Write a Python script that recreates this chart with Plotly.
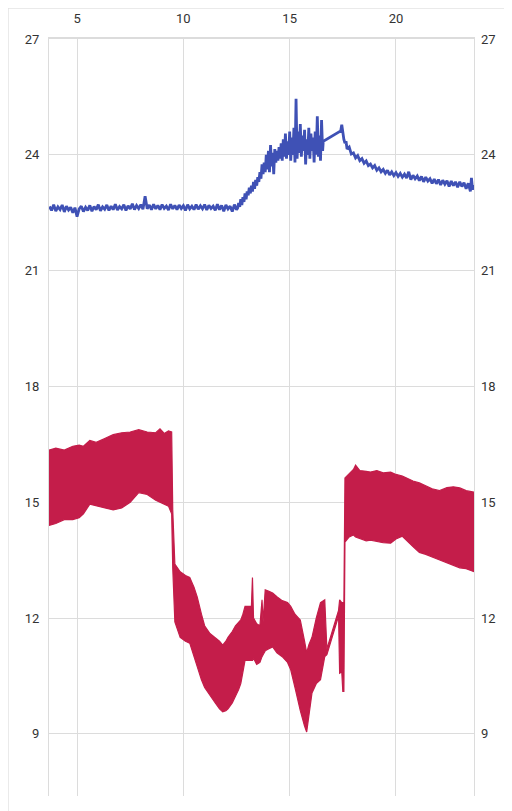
import plotly.graph_objects as go

# blue series (top line)
blue_x = [3.7, 3.8, 3.9, 4.0, 4.1, 4.2, 4.3, 4.4, 4.5, 4.6,
          4.7, 4.8, 4.9, 5.0, 5.1, 5.2, 5.3, 5.4, 5.5, 5.6,
          5.7, 5.8, 5.9, 6.0, 6.1, 6.2, 6.3, 6.4, 6.5, 6.6,
          6.7, 6.8, 6.9, 7.0, 7.1, 7.2, 7.3, 7.4, 7.5, 7.6,
          7.7, 7.8, 7.9, 8.0, 8.1, 8.2, 8.3, 8.4, 8.5, 8.6,
          8.7, 8.8, 8.9, 9.0, 9.1, 9.2, 9.3, 9.4, 9.5, 9.6,
          9.7, 9.8, 9.9, 10.0, 10.1, 10.2, 10.3, 10.4, 10.5, 10.6,
          10.7, 10.8, 10.9, 11.0, 11.1, 11.2, 11.3, 11.4, 11.5, 11.6,
          11.7, 11.8, 11.9, 12.0, 12.1, 12.2, 12.3, 12.4, 12.5,
          12.55, 12.60, 12.65, 12.70, 12.75, 12.80, 12.85, 12.90, 12.95, 13.00,
          13.05, 13.10, 13.15, 13.20, 13.25, 13.30, 13.35, 13.40, 13.45, 13.50,
          13.55, 13.60, 13.65, 13.70, 13.75, 13.80, 13.85, 13.90, 13.95, 14.00,
          14.05, 14.10, 14.15, 14.20, 14.25, 14.30, 14.35, 14.40, 14.45, 14.50,
          14.55, 14.60, 14.65, 14.70, 14.75, 14.80, 14.85, 14.90, 14.95, 15.00,
          15.05, 15.10, 15.15, 15.20, 15.25, 15.30, 15.35, 15.40, 15.45, 15.50,
          15.55, 15.60, 15.65, 15.70, 15.75, 15.80, 15.85, 15.90, 15.95, 16.00,
          16.05, 16.10, 16.15, 16.20, 16.25, 16.30, 16.35, 16.40, 16.45, 16.50,
          16.55, 16.58, 17.40,
          17.45, 17.50, 17.55, 17.60, 17.65, 17.70, 17.80, 17.90, 18.00, 18.10,
          18.20, 18.30, 18.40, 18.50, 18.60, 18.70, 18.80, 18.90, 19.00, 19.10,
          19.20, 19.30, 19.40, 19.50, 19.60, 19.70, 19.80, 19.90, 20.00, 20.10,
          20.20, 20.30, 20.40, 20.50, 20.60, 20.70, 20.80, 20.90, 21.00, 21.10,
          21.20, 21.30, 21.40, 21.50, 21.60, 21.70, 21.80, 21.90, 22.00, 22.10,
          22.20, 22.30, 22.40, 22.50, 22.60, 22.70, 22.80, 22.90, 23.00, 23.10,
          23.20, 23.30, 23.40, 23.50, 23.55, 23.60, 23.67]
blue_y = [22.66, 22.56, 22.71, 22.54, 22.65, 22.58, 22.70, 22.52, 22.67, 22.57,
          22.64, 22.50, 22.63, 22.40, 22.60, 22.67, 22.53, 22.64, 22.56, 22.69,
          22.54, 22.66, 22.58, 22.71, 22.55, 22.65, 22.59, 22.70, 22.56, 22.67,
          22.58, 22.72, 22.57, 22.66, 22.60, 22.71, 22.56, 22.68, 22.60, 22.73,
          22.58, 22.69, 22.61, 22.71, 22.59, 22.93, 22.60, 22.70, 22.58, 22.72,
          22.60, 22.69, 22.58, 22.71, 22.61, 22.67, 22.57, 22.72, 22.60, 22.69,
          22.58, 22.70, 22.61, 22.68, 22.56, 22.71, 22.60, 22.67, 22.58, 22.71,
          22.59, 22.68, 22.60, 22.71, 22.57, 22.69, 22.61, 22.67, 22.56, 22.72,
          22.58, 22.69, 22.54, 22.70, 22.60, 22.67, 22.53, 22.71, 22.58,
          22.62, 22.75, 22.65, 22.85, 22.70, 22.90, 22.78, 23.00, 22.85, 23.05,
          22.95, 23.15, 23.00, 23.20, 23.05, 23.30, 23.12, 23.35, 23.20, 23.42,
          23.30, 23.55, 23.38, 23.75, 23.50, 23.80, 23.55, 24.00, 23.62, 24.10,
          23.55, 24.25, 23.70, 24.05, 23.50, 24.15, 23.80, 24.10, 23.85, 24.20,
          23.90, 24.30, 23.85, 24.40, 23.95, 24.55, 23.90, 24.35, 24.00, 24.60,
          23.85, 24.45, 24.00, 24.70, 23.80, 25.45, 23.90, 24.60, 24.05, 24.80,
          23.95, 24.50, 24.10, 24.65, 23.75, 24.40, 24.00, 24.70, 23.90, 24.55,
          24.10, 24.45, 23.80, 24.60, 24.00, 25.00, 23.95, 24.50, 23.85, 24.90,
          24.10, 24.35, 24.62,
          24.78, 24.55, 24.40, 24.30, 24.35, 24.15, 24.20, 24.02, 24.05, 23.92,
          23.98, 23.85, 23.90, 23.78, 23.84, 23.72, 23.76, 23.66, 23.72, 23.60,
          23.66, 23.56, 23.62, 23.52, 23.60, 23.48, 23.56, 23.46, 23.54, 23.44,
          23.52, 23.42, 23.50, 23.40, 23.56, 23.36, 23.47, 23.38, 23.45, 23.33,
          23.44, 23.30, 23.42, 23.32, 23.38, 23.26, 23.37, 23.25, 23.36, 23.22,
          23.34, 23.24, 23.33, 23.18, 23.32, 23.20, 23.30, 23.16, 23.30, 23.18,
          23.28, 23.12, 23.26, 23.05, 23.40, 23.10, 23.22]

# red series, drawn as the band between its highs and lows
red_x = [3.68, 4.00, 4.40, 4.80, 5.10, 5.30, 5.60, 5.90, 6.30, 6.70, 7.10, 7.50, 7.90, 8.30,
         8.70, 8.90, 9.10, 9.30, 9.45, 9.50, 9.60, 9.85, 10.10, 10.30, 10.50, 10.65, 10.85,
         11.00, 11.25, 11.50, 11.70, 11.85, 12.00, 12.10, 12.30, 12.45, 12.60, 12.70, 12.80,
         12.90, 13.20, 13.25, 13.30, 13.45, 13.60, 13.70, 13.75, 13.85, 14.00, 14.20, 14.40,
         14.65, 14.90, 15.05, 15.25, 15.50, 15.70, 15.80, 15.90, 16.05, 16.25, 16.45, 16.65,
         16.75, 17.30, 17.35, 17.45, 17.50, 17.55, 17.60, 17.80, 18.00, 18.10, 18.30, 18.60,
         18.80, 19.10, 19.40, 19.75, 20.00, 20.30, 20.50, 20.80, 21.10, 21.40, 21.70, 22.05,
         22.40, 22.70, 23.00, 23.30, 23.67]
red_hi = [16.35, 16.40, 16.35, 16.45, 16.48, 16.45, 16.60, 16.55, 16.65, 16.75, 16.80, 16.82,
          16.88, 16.82, 16.80, 16.90, 16.78, 16.85, 16.82, 14.80, 13.40, 13.20, 13.10, 13.05,
          12.80, 12.55, 12.10, 11.80, 11.60, 11.50, 11.40, 11.30, 11.40, 11.50, 11.65, 11.80,
          11.90, 11.95, 12.10, 12.30, 12.30, 13.05, 12.00, 11.85, 11.80, 12.47, 11.90, 12.73,
          12.70, 12.65, 12.55, 12.45, 12.40, 12.30, 12.10, 11.95, 11.40, 11.10, 11.30, 11.50,
          12.00, 12.40, 12.47, 11.20, 12.20, 12.47, 12.40, 12.40, 12.40, 15.63, 15.75, 15.85,
          15.96, 15.82, 15.80, 15.78, 15.82, 15.76, 15.78, 15.72, 15.68, 15.62, 15.55, 15.50,
          15.42, 15.35, 15.30, 15.38, 15.40, 15.37, 15.30, 15.26]
red_lo = [14.40, 14.45, 14.55, 14.55, 14.60, 14.70, 14.95, 14.90, 14.85, 14.80, 14.85, 15.00,
          15.25, 15.20, 15.05, 15.00, 14.95, 14.90, 14.70, 13.30, 11.90, 11.50, 11.40, 11.35,
          11.00, 10.75, 10.40, 10.20, 10.00, 9.80, 9.65, 9.57, 9.60, 9.65, 9.80, 9.95, 10.15,
          10.30, 10.60, 10.90, 10.90, 10.90, 10.95, 10.80, 10.85, 11.00, 11.05, 11.15, 11.20,
          11.25, 11.10, 11.00, 10.85, 10.66, 10.20, 9.60, 9.20, 9.05, 9.40, 10.06, 10.30,
          10.40, 11.00, 11.05, 12.05, 10.57, 10.60, 10.10, 10.10, 13.97, 14.10, 14.15, 14.10,
          14.05, 14.00, 14.02, 13.98, 13.95, 13.94, 14.05, 14.12, 14.00, 13.85, 13.70, 13.65,
          13.58, 13.50, 13.42, 13.36, 13.30, 13.28, 13.20]

y_ticks = [9, 12, 15, 18, 21, 24, 27]
x_ticks = [5, 10, 15, 20]

RED = "#C41D4A"
BLUE = "#3F51B5"
GRID = "#DCDCDC"

fig = go.Figure()
fig.add_trace(go.Scatter(
    x=red_x + red_x[::-1], y=red_hi + red_lo[::-1],
    mode="lines", fill="toself", fillcolor=RED,
    line=dict(color=RED, width=1.2), hoverinfo="skip", showlegend=False))
fig.add_trace(go.Scatter(
    x=blue_x, y=blue_y, yaxis="y2", mode="lines",
    line=dict(color=BLUE, width=2.8), showlegend=False))

# the page body has an 8px margin, so the figure starts at (8, 8) on screen
W, H = 504, 803
L, R, T, B = 41, 38, 31, 15

# card border along the top-left
fig.add_shape(type="rect", xref="paper", yref="paper",
              x0=-L / (W - L - R), x1=1.2, y0=-0.1, y1=1 + T / (H - T - B),
              line=dict(color="#E3E3E3", width=1.5), layer="below")

font = dict(family="Roboto", size=13, color="#333333")
yrange = [7.39, 27.0]

fig.update_layout(
    width=W, height=H,
    margin=dict(l=L, r=R, t=T, b=B),
    paper_bgcolor="white", plot_bgcolor="white",
    xaxis=dict(range=[3.68, 23.67], side="top", tickvals=x_ticks, automargin=False,
               showgrid=True, gridcolor=GRID, gridwidth=1,
               showline=True, linecolor=GRID, linewidth=2,
               zeroline=False, ticks="", tickfont=font, ticklabelstandoff=9),
    yaxis=dict(range=yrange, tickvals=y_ticks, showgrid=True, gridcolor=GRID,
               gridwidth=1, showline=True, mirror=True, linecolor=GRID, linewidth=1,
               zeroline=False, ticks="", tickfont=font, ticklabelstandoff=6,
               automargin=False),
    yaxis2=dict(range=yrange, tickvals=y_ticks, overlaying="y", side="right",
                matches="y", showgrid=False, zeroline=False, ticks="",
                tickfont=font, ticklabelstandoff=6, automargin=False),
)

fig.write_html("out.html")
